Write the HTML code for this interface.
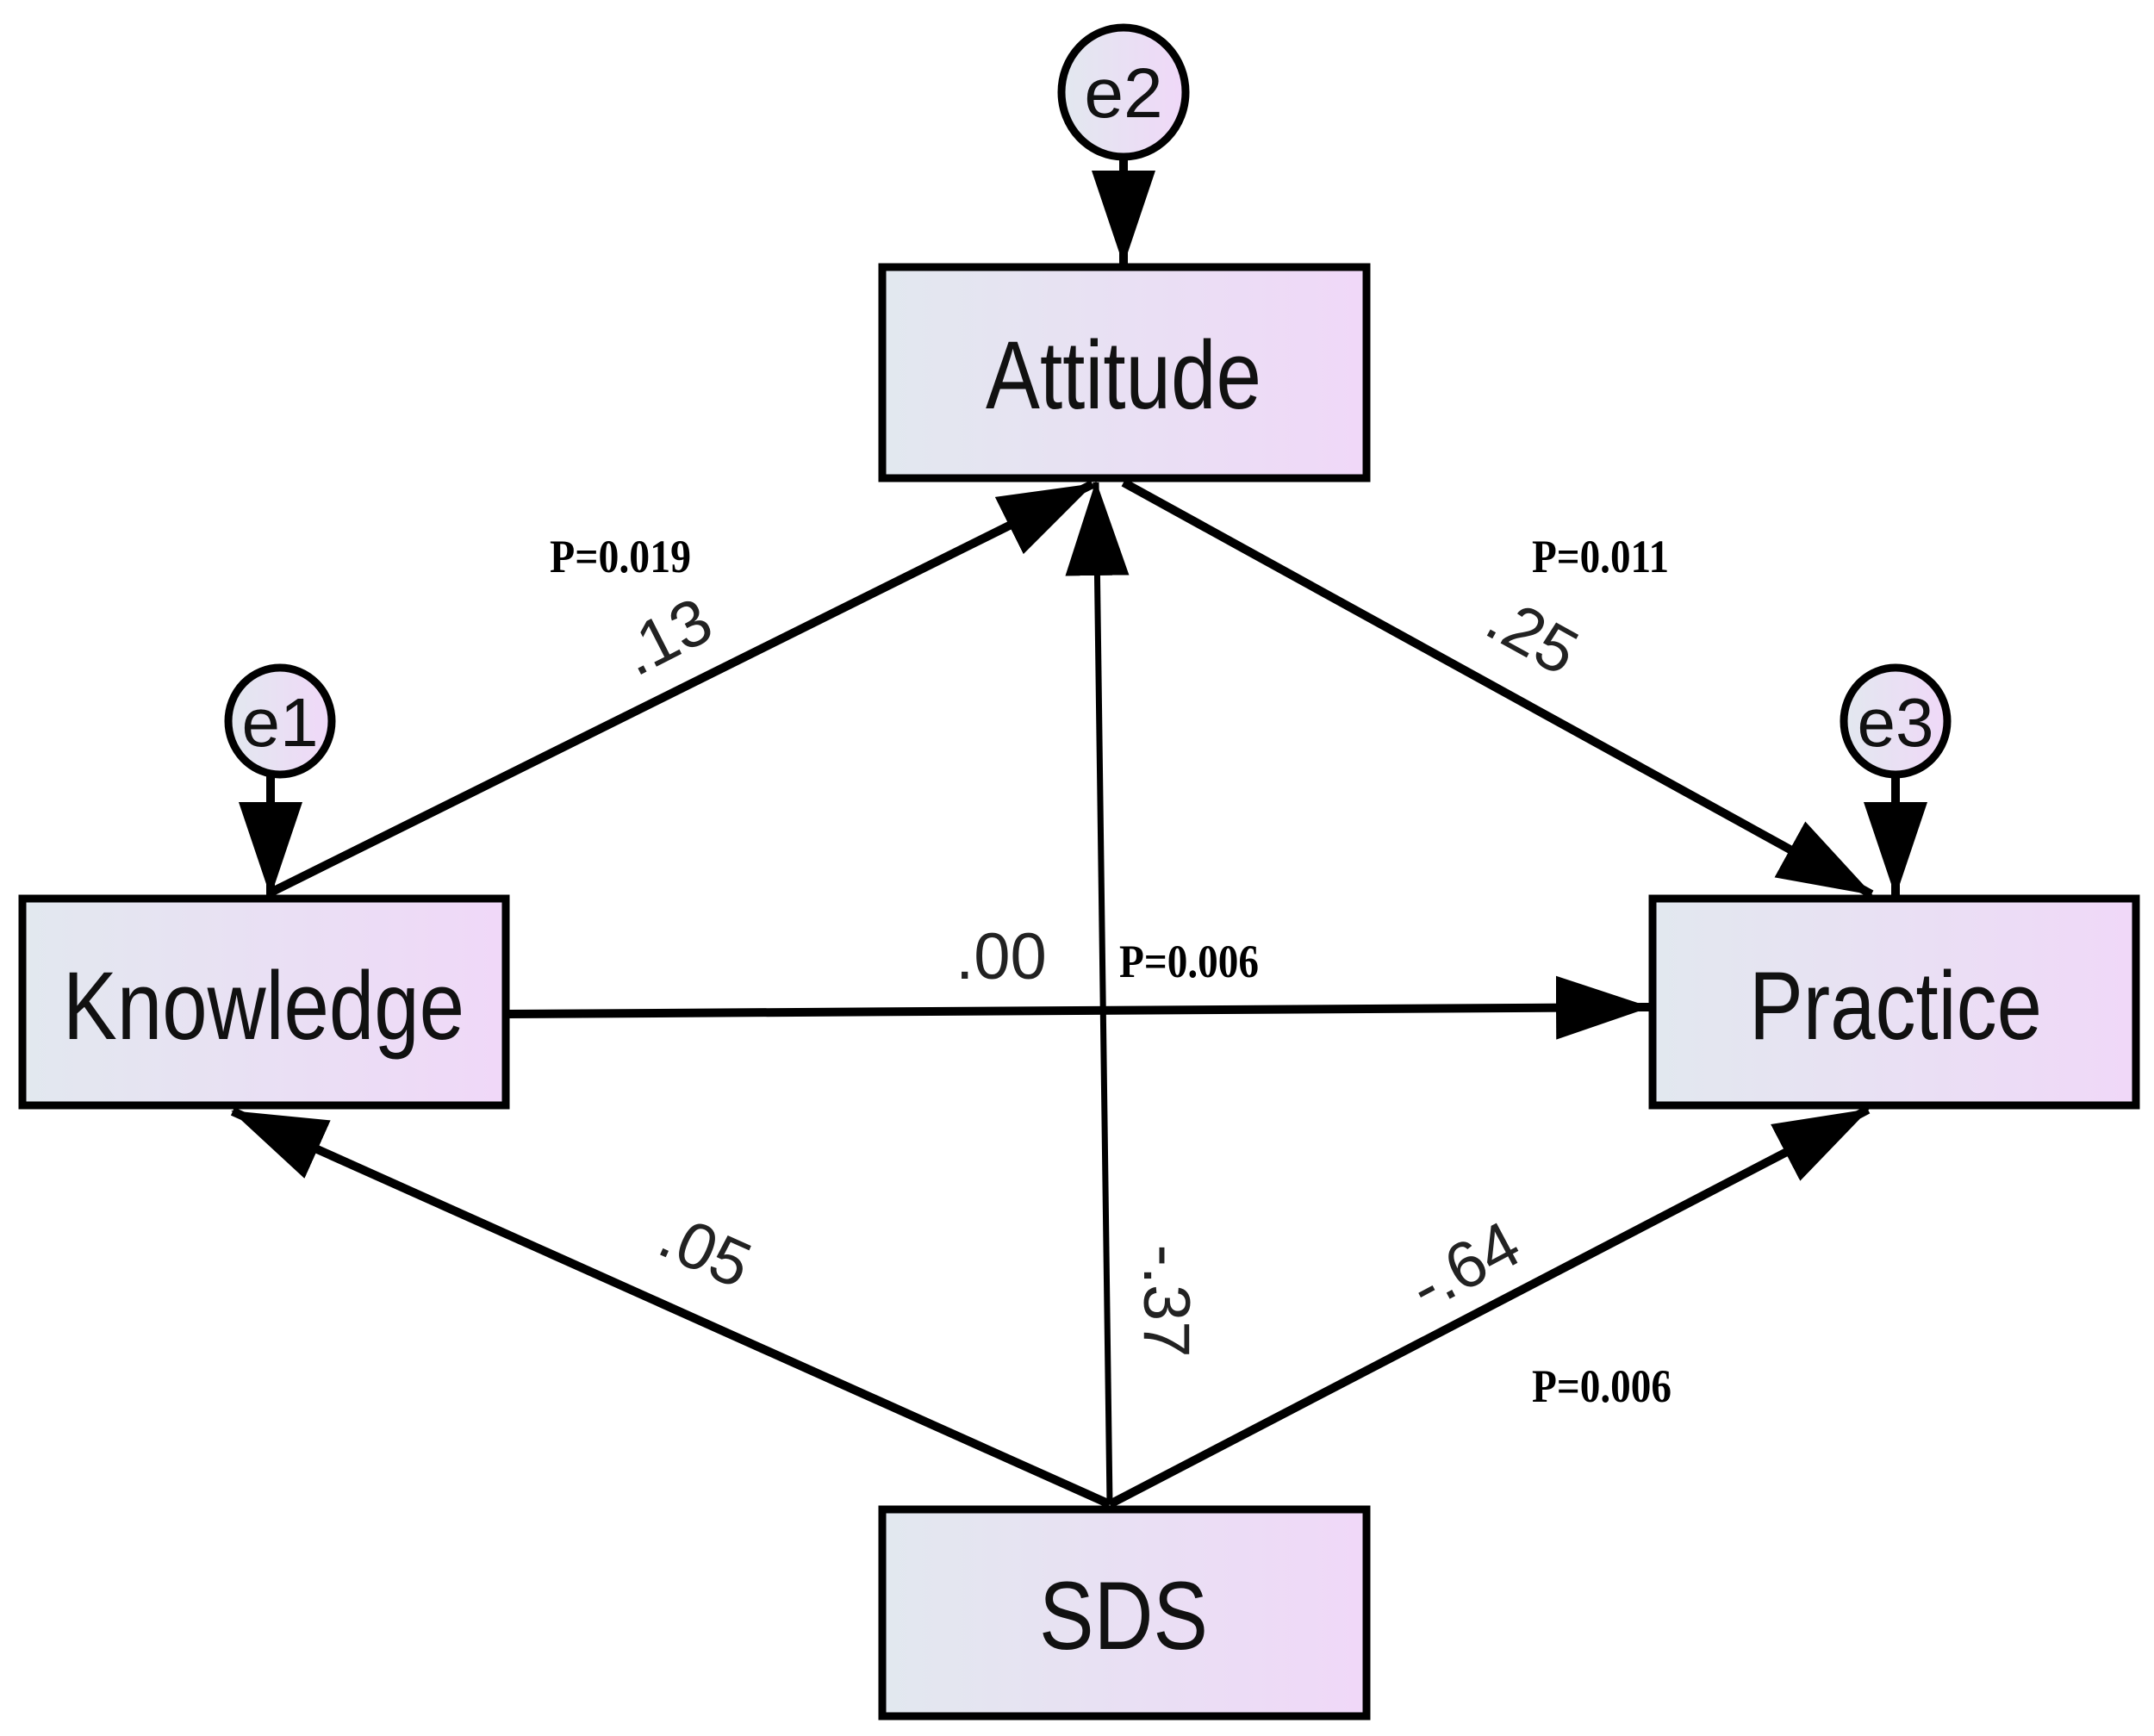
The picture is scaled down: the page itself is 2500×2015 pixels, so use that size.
<!DOCTYPE html>
<html><head><meta charset="utf-8"><style>
html,body{margin:0;padding:0;background:#fff;}
svg{display:block;}
</style></head><body>
<svg width="2500" height="2015" viewBox="0 0 2500 2015" xmlns="http://www.w3.org/2000/svg">
<defs>
<linearGradient id="g" x1="0" y1="0" x2="1" y2="0">
<stop offset="0" stop-color="#e2e8ef"/><stop offset="1" stop-color="#f0d8f8"/>
</linearGradient>
<marker id="ah" markerUnits="userSpaceOnUse" markerWidth="110" markerHeight="74" refX="108" refY="37" orient="auto">
<path d="M0,0 L110,37 L0,74 Z" fill="#000"/>
</marker>
</defs>
<g fill="url(#g)" stroke="#000" stroke-width="9">
<rect x="1024" y="310" width="562" height="245"/>
<rect x="26" y="1043" width="561" height="240"/>
<rect x="1918" y="1043" width="561" height="240"/>
<rect x="1024" y="1752" width="562" height="240"/>
<ellipse cx="1304" cy="107" rx="72" ry="75"/>
<ellipse cx="325" cy="837" rx="60" ry="62"/>
<ellipse cx="2200" cy="837" rx="60" ry="62"/>
</g>
<g stroke="#000" stroke-width="10" fill="none" marker-end="url(#ah)">
<line x1="1304" y1="182" x2="1304" y2="306"/>
<line x1="314" y1="899" x2="314" y2="1039"/>
<line x1="2200" y1="899" x2="2200" y2="1039"/>
<line x1="314" y1="1036" x2="1268" y2="562"/>
<line x1="1304" y1="560" x2="2172" y2="1038"/>
<line x1="590" y1="1177" x2="1914" y2="1169"/>
<line x1="1288" y1="1746" x2="270" y2="1290"/>
<line x1="1288" y1="1746" x2="2168" y2="1288"/>
<line x1="1288" y1="1746" x2="1272" y2="560" stroke-width="7"/>
</g>
<g font-family="Liberation Sans, sans-serif" fill="#111" font-size="112" text-anchor="middle">
<text x="1304" y="474" textLength="320" lengthAdjust="spacingAndGlyphs">Attitude</text>
<text x="306" y="1206" textLength="466" lengthAdjust="spacingAndGlyphs">Knowledge</text>
<text x="2200" y="1206" textLength="340" lengthAdjust="spacingAndGlyphs">Practice</text>
<text x="1304" y="1914" textLength="196" lengthAdjust="spacingAndGlyphs">SDS</text>
<text x="1304" y="136" font-size="82">e2</text>
<text x="325" y="866" font-size="80">e1</text>
<text x="2200" y="866" font-size="80">e3</text>
</g>
<g font-family="Liberation Sans, sans-serif" fill="#222" font-size="76" text-anchor="middle">
<text transform="translate(785,762) rotate(-27)">.13</text>
<text transform="translate(1766,760) rotate(29)">.25</text>
<text x="1162" y="1136">.00</text>
<text transform="translate(1328,1510) rotate(90)">-.37</text>
<text transform="translate(808,1475) rotate(24)">.05</text>
<text transform="translate(1712,1492) rotate(-28)">-.64</text>
</g>
<g font-family="Liberation Serif, serif" font-weight="bold" fill="#000" font-size="54">
<text x="638" y="664" textLength="164" lengthAdjust="spacingAndGlyphs">P=0.019</text>
<text x="1778" y="664" textLength="159" lengthAdjust="spacingAndGlyphs">P=0.011</text>
<text x="1299" y="1134" textLength="162" lengthAdjust="spacingAndGlyphs">P=0.006</text>
<text x="1778" y="1627" textLength="162" lengthAdjust="spacingAndGlyphs">P=0.006</text>
</g>
</svg>
</body></html>
